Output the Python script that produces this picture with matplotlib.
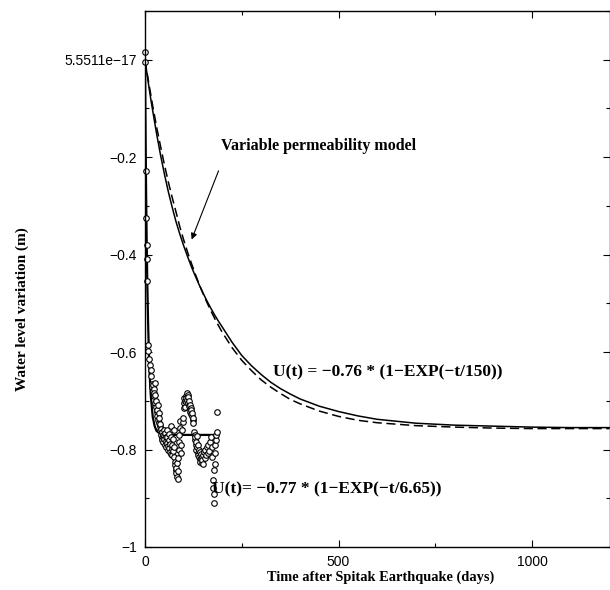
import matplotlib
matplotlib.use("Agg")
import matplotlib.pyplot as plt
from matplotlib.ticker import MultipleLocator, FixedLocator

# observed water level (days after quake, metres)
obs_t = [0, 1, 2, 3, 4, 5, 6, 8, 9, 11, 13, 15, 16, 18, 19, 20, 21, 22, 23, 24,
         25, 26, 27, 28, 29, 30, 31, 32, 33, 34, 35, 36, 37, 38, 39, 40, 41, 42,
         43, 44, 45, 46, 47, 48, 49, 50, 51, 52, 53, 54, 55, 56, 57, 58, 59, 60,
         61, 62, 63, 64, 65, 66, 67, 68, 69, 70, 71, 72, 73, 74, 75, 76, 77, 78,
         79, 80, 81, 82, 83, 84, 85, 86, 87, 88, 89, 90, 91, 92, 93, 95, 97, 99,
         100, 101, 102, 103, 104, 105, 106, 107, 108, 109, 110, 111, 112, 113,
         114, 115, 116, 117, 118, 119, 120, 121, 122, 123, 124, 125, 127, 128,
         129, 130, 131, 132, 133, 134, 135, 136, 137, 138, 139, 140, 141, 142,
         143, 144, 145, 146, 147, 148, 149, 150, 152, 154, 156, 158, 160, 162,
         164, 166, 168, 170, 172, 174, 175, 176, 177, 178, 179, 180, 181, 182,
         183, 184, 185, 187]
obs_u = [0.016, -0.004, -0.228, -0.324, -0.380, -0.410, -0.455, -0.585, -0.598,
         -0.615, -0.626, -0.636, -0.650, -0.666, -0.672, -0.680, -0.668, -0.690,
         -0.675, -0.684, -0.664, -0.688, -0.705, -0.712, -0.700, -0.722, -0.718,
         -0.731, -0.708, -0.740, -0.726, -0.745, -0.735, -0.752, -0.760, -0.748,
         -0.770, -0.757, -0.776, -0.764, -0.781, -0.770, -0.785, -0.772, -0.760,
         -0.778, -0.790, -0.766, -0.782, -0.795, -0.774, -0.786, -0.760, -0.775,
         -0.800, -0.792, -0.780, -0.768, -0.796, -0.805, -0.788, -0.810, -0.775,
         -0.752, -0.798, -0.812, -0.790, -0.778, -0.803, -0.795, -0.760, -0.815,
         -0.825, -0.832, -0.842, -0.848, -0.838, -0.856, -0.828, -0.818, -0.845,
         -0.860, -0.800, -0.785, -0.770, -0.755, -0.742, -0.790, -0.808, -0.760,
         -0.743, -0.735, -0.705, -0.715, -0.695, -0.700, -0.712, -0.690, -0.702,
         -0.694, -0.685, -0.698, -0.688, -0.705, -0.692, -0.710, -0.700, -0.716,
         -0.708, -0.722, -0.714, -0.728, -0.718, -0.732, -0.725, -0.740, -0.735,
         -0.745, -0.765, -0.770, -0.780, -0.775, -0.790, -0.800, -0.785, -0.795,
         -0.772, -0.808, -0.812, -0.790, -0.800, -0.815, -0.820, -0.806, -0.825,
         -0.818, -0.810, -0.828, -0.815, -0.822, -0.830, -0.812, -0.805, -0.818,
         -0.800, -0.812, -0.795, -0.808, -0.790, -0.802, -0.785, -0.775, -0.795,
         -0.815, -0.862, -0.878, -0.909, -0.892, -0.843, -0.830, -0.808, -0.790,
         -0.780, -0.770, -0.763, -0.724]

# short-term fit through the observations
fit_t = [0, 1, 2, 3, 4, 5, 6, 8, 10, 12, 15, 20, 25, 30, 40, 60, 100, 187]
fit_u = [0.0, -0.107, -0.200, -0.280, -0.350, -0.410, -0.460, -0.540, -0.600,
         -0.645, -0.690, -0.733, -0.752, -0.762, -0.768, -0.770, -0.770, -0.770]

# variable permeability model (solid) and exponential (dashed)
model_t = [0, 5, 10, 15, 20, 30, 40, 50, 60, 70, 80, 90, 100, 110, 120, 130, 140,
           150, 160, 170, 180, 190, 200, 225, 250, 275, 300, 325, 350, 375, 400,
           450, 500, 550, 600, 700, 800, 900, 1000, 1100, 1200]
vp_u = [0.0, -0.028, -0.055, -0.081, -0.105, -0.152, -0.195, -0.234, -0.270,
        -0.302, -0.332, -0.358, -0.382, -0.404, -0.425, -0.444, -0.462, -0.479,
        -0.495, -0.510, -0.524, -0.537, -0.549, -0.580, -0.607, -0.628, -0.646,
        -0.662, -0.675, -0.686, -0.696, -0.711, -0.722, -0.731, -0.738, -0.746,
        -0.750, -0.752, -0.754, -0.755, -0.755]
exp_u = [0.0, -0.025, -0.049, -0.072, -0.095, -0.138, -0.177, -0.215, -0.250,
         -0.282, -0.312, -0.343, -0.370, -0.395, -0.418, -0.440, -0.461, -0.480,
         -0.498, -0.515, -0.531, -0.546, -0.560, -0.591, -0.617, -0.638, -0.657,
         -0.672, -0.685, -0.697, -0.706, -0.721, -0.732, -0.740, -0.745, -0.751,
         -0.754, -0.756, -0.757, -0.757, -0.757]

y_ticks = [0, -0.2, -0.4, -0.6, -0.8, -1]
y_ticklabels = ["5.5511e\u221217", "\u22120.2", "\u22120.4", "\u22120.6", "\u22120.8", "\u22121"]
x_ticks = [0, 500, 1000]

serif = "Liberation Serif"
sans = "Liberation Sans"

fig = plt.figure(figsize=(6.1, 5.9), dpi=100)
ax = fig.add_axes([0.2377, 0.0729, 0.7615, 0.9085])

ax.plot(model_t, vp_u, color="black", lw=1.1)
ax.plot(model_t, exp_u, color="black", lw=1.1, ls=(0, (6, 3)))
ax.plot(fit_t, fit_u, color="black", lw=1.6)
ax.plot(obs_t, obs_u, ls="none", marker="o", ms=4, mfc="white", mec="black",
        mew=0.8, clip_on=False)

ax.set_xlim(0, 1200)
ax.set_ylim(-1, 0.1)
ax.xaxis.set_major_locator(FixedLocator(x_ticks))
ax.xaxis.set_minor_locator(MultipleLocator(250))
ax.yaxis.set_major_locator(FixedLocator(y_ticks))
ax.yaxis.set_minor_locator(MultipleLocator(0.1))
ax.set_yticklabels(y_ticklabels)
ax.tick_params(which="both", direction="in", top=True, right=True, width=0.8,
               labelsize=10, pad=6)
ax.tick_params(which="major", length=5)
ax.tick_params(which="minor", length=3)
for lab in ax.get_xticklabels() + ax.get_yticklabels():
    lab.set_fontfamily(sans)
for sp in ax.spines.values():
    sp.set_linewidth(1.0)

# annotation text and its arrow
ax.text(197, -0.178, "Variable permeability model", fontsize=11.5,
        fontweight="bold", family=serif, ha="left", va="center")
ax.annotate("", xy=(120.5, -0.369), xytext=(190, -0.228),
            arrowprops=dict(arrowstyle="-|>", color="black", lw=0.8,
                            mutation_scale=9, shrinkA=0, shrinkB=0))
ax.text(331, -0.642, "U(t) = \u22120.76 * (1\u2212EXP(\u2212t/150))", fontsize=12.5,
        fontweight="bold", family=serif, ha="left", va="center")
ax.text(174, -0.882, "U(t)= \u22120.77 * (1\u2212EXP(\u2212t/6.65))", fontsize=12.5,
        fontweight="bold", family=serif, ha="left", va="center")

fig.text(0.6233, 0.022, "Time after Spitak Earthquake (days)", fontsize=10.4,
         fontweight="bold", family=serif, ha="center", va="center")
fig.text(0.036, 0.476, "Water level variation (m)", fontsize=11, fontweight="bold",
         family=serif, ha="center", va="center", rotation=90)

fig.savefig("out.png", dpi=100)
